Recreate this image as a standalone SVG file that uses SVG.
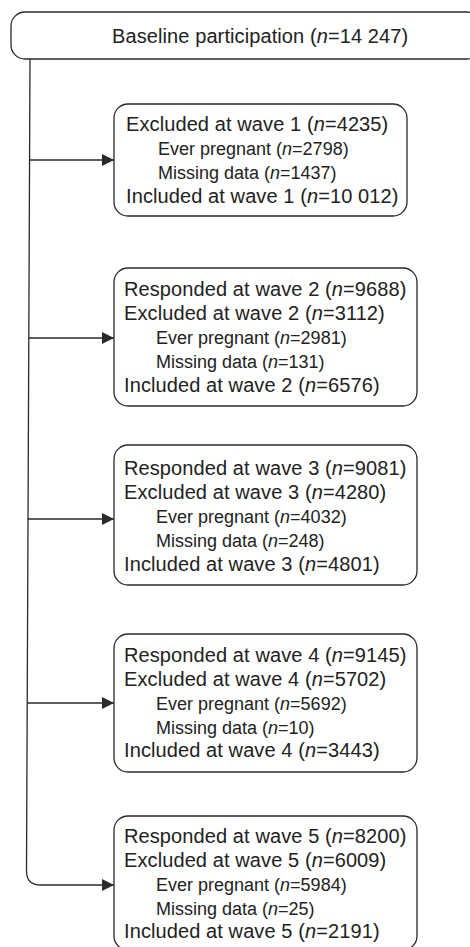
<svg xmlns="http://www.w3.org/2000/svg" width="470" height="947" viewBox="0 0 470 947">
<style>
  .box { fill: #ffffff; stroke: #2a2a2a; stroke-width: 1.3; }
  .big { font-family: "Liberation Sans", Arial, sans-serif; font-size: 20px; fill: #222222; letter-spacing: 0.1px; }
  .small { font-family: "Liberation Sans", Arial, sans-serif; font-size: 18px; fill: #222222; }
  .it { font-style: italic; }
  .conn { fill: none; stroke: #2a2a2a; stroke-width: 1.3; }
</style>
<defs>
  <marker id="arrow" viewBox="0 0 12 12" markerUnits="userSpaceOnUse" markerWidth="12" markerHeight="12" refX="12" refY="6" orient="auto" preserveAspectRatio="none">
    <path d="M0,0 L12,6 L0,12 z" fill="#2a2a2a"/>
  </marker>
</defs>
<rect width="470" height="947" fill="#ffffff"/>
<g id="connectors">
  <path class="conn" d="M30,59 L26.5,871 Q26.5,885 40.5,885 L114,885" marker-end="url(#arrow)"/>
  <path class="conn" d="M29.5,160 L114,160" marker-end="url(#arrow)"/>
  <path class="conn" d="M28.6,338 L114,338" marker-end="url(#arrow)"/>
  <path class="conn" d="M27.7,519 L114,519" marker-end="url(#arrow)"/>
  <path class="conn" d="M26.9,703 L114,703" marker-end="url(#arrow)"/>
</g>
<g id="baseline">
  <rect class="box" x="11" y="12" width="470" height="47" rx="14"/>
  <text class="big" x="112" y="43">Baseline participation (<tspan class="it">n</tspan>=14 247)</text>
</g>
<g id="wave1">
  <rect class="box" x="114" y="104" width="293" height="112" rx="14"/>
  <text class="big" x="126" y="131">Excluded at wave 1 (<tspan class="it">n</tspan>=4235)</text>
  <text class="small" x="158" y="155">Ever pregnant (<tspan class="it">n</tspan>=2798)</text>
  <text class="small" x="158" y="179">Missing data (<tspan class="it">n</tspan>=1437)</text>
  <text class="big" x="126" y="203">Included at wave 1 (<tspan class="it">n</tspan>=10 012)</text>
</g>
<g id="wave2">
  <rect class="box" x="114" y="268" width="303" height="138" rx="14"/>
  <text class="big" x="124" y="296">Responded at wave 2 (<tspan class="it">n</tspan>=9688)</text>
  <text class="big" x="124" y="320">Excluded at wave 2 (<tspan class="it">n</tspan>=3112)</text>
  <text class="small" x="156" y="344">Ever pregnant (<tspan class="it">n</tspan>=2981)</text>
  <text class="small" x="156" y="368">Missing data (<tspan class="it">n</tspan>=131)</text>
  <text class="big" x="124" y="392">Included at wave 2 (<tspan class="it">n</tspan>=6576)</text>
</g>
<g id="wave3">
  <rect class="box" x="114" y="445" width="303" height="140" rx="14"/>
  <text class="big" x="124" y="475">Responded at wave 3 (<tspan class="it">n</tspan>=9081)</text>
  <text class="big" x="124" y="499">Excluded at wave 3 (<tspan class="it">n</tspan>=4280)</text>
  <text class="small" x="156" y="523">Ever pregnant (<tspan class="it">n</tspan>=4032)</text>
  <text class="small" x="156" y="547">Missing data (<tspan class="it">n</tspan>=248)</text>
  <text class="big" x="124" y="571">Included at wave 3 (<tspan class="it">n</tspan>=4801)</text>
</g>
<g id="wave4">
  <rect class="box" x="114" y="634" width="303" height="138" rx="14"/>
  <text class="big" x="124" y="662">Responded at wave 4 (<tspan class="it">n</tspan>=9145)</text>
  <text class="big" x="124" y="686">Excluded at wave 4 (<tspan class="it">n</tspan>=5702)</text>
  <text class="small" x="156" y="710">Ever pregnant (<tspan class="it">n</tspan>=5692)</text>
  <text class="small" x="156" y="734">Missing data (<tspan class="it">n</tspan>=10)</text>
  <text class="big" x="124" y="757">Included at wave 4 (<tspan class="it">n</tspan>=3443)</text>
</g>
<g id="wave5">
  <rect class="box" x="114" y="816" width="303" height="134" rx="14"/>
  <text class="big" x="124" y="843">Responded at wave 5 (<tspan class="it">n</tspan>=8200)</text>
  <text class="big" x="124" y="867">Excluded at wave 5 (<tspan class="it">n</tspan>=6009)</text>
  <text class="small" x="156" y="891">Ever pregnant (<tspan class="it">n</tspan>=5984)</text>
  <text class="small" x="156" y="915">Missing data (<tspan class="it">n</tspan>=25)</text>
  <text class="big" x="124" y="938">Included at wave 5 (<tspan class="it">n</tspan>=2191)</text>
</g>
</svg>
